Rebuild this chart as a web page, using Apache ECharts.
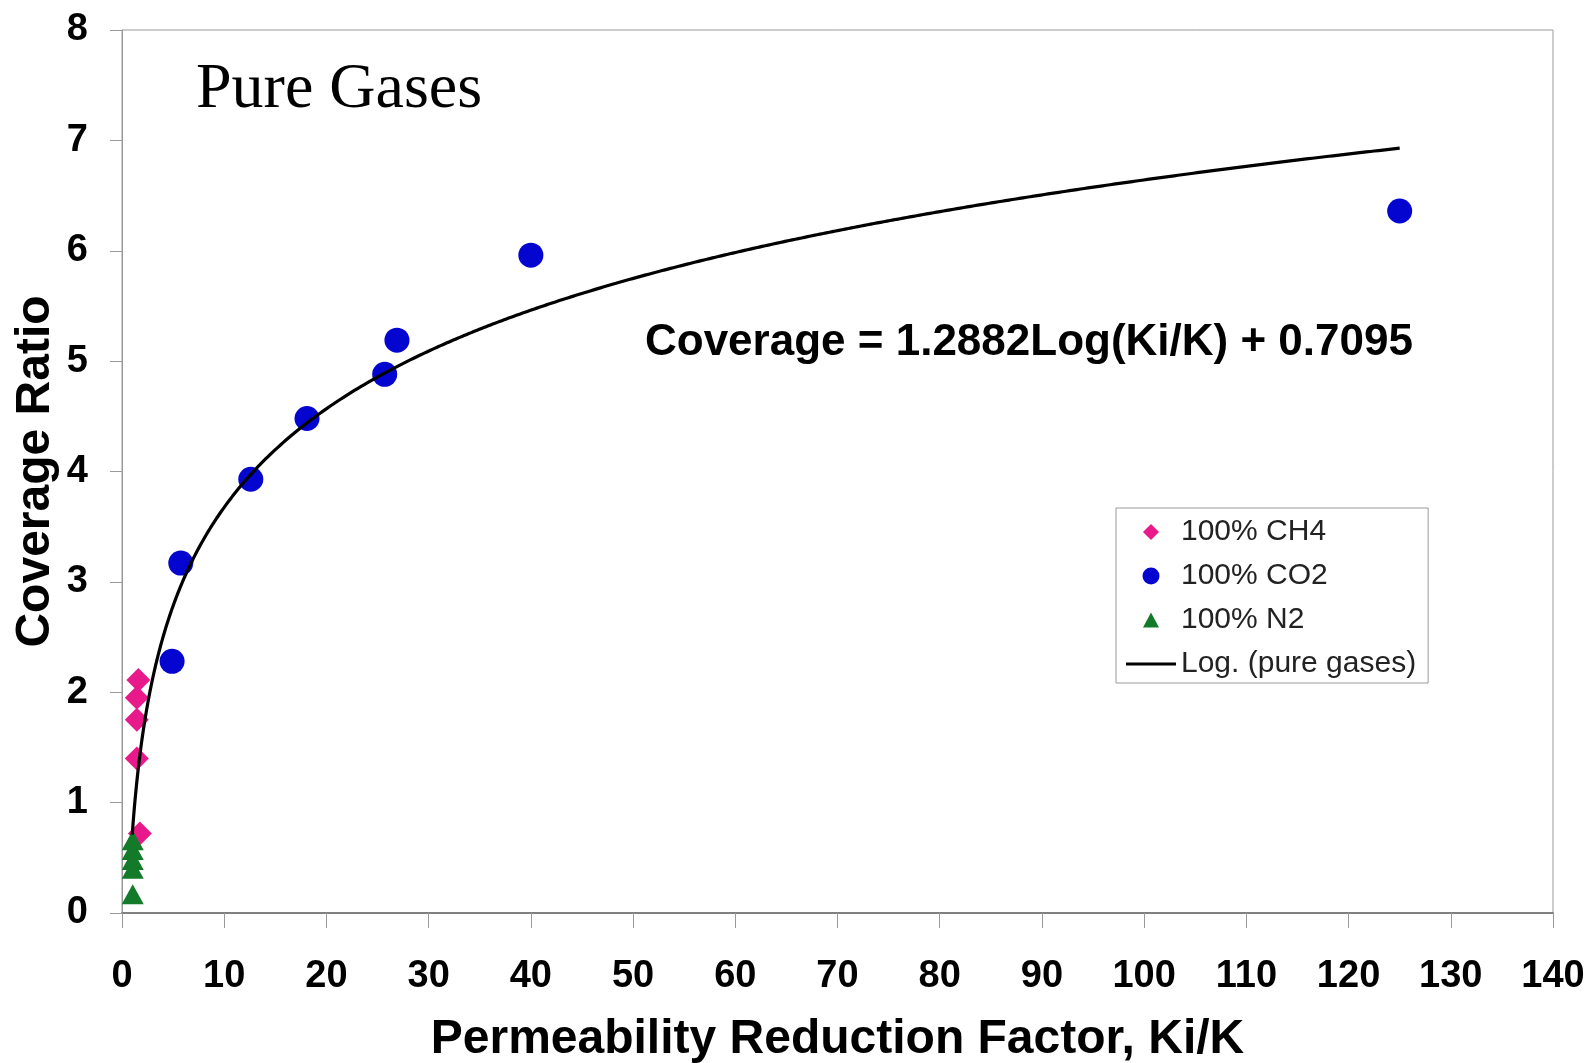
<!DOCTYPE html>
<html>
<head>
<meta charset="utf-8">
<script src="https://cdn.jsdelivr.net/npm/echarts@6/dist/echarts.min.js"></script>
<style>
html,body{margin:0;padding:0;background:#fff;}
#chart{width:1594px;height:1063px;}
</style>
</head>
<body>
<div id="chart"></div>
<script>
// ---- data ----
const ch4X = [1.6, 1.45, 1.45, 1.45, 1.75];
const ch4Y = [2.11, 1.95, 1.75, 1.40, 0.72];
const co2X = [4.9, 5.75, 12.6, 18.1, 25.7, 26.9, 40.0, 125.0];
const co2Y = [2.28, 3.17, 3.93, 4.48, 4.88, 5.19, 5.96, 6.36];
const n2X = [1.05, 1.05, 1.05, 1.05, 1.05];
const n2Y = [0.66, 0.57, 0.48, 0.40, 0.17];
// fitted trend shown on the chart: Coverage = 1.2882 ln(Ki/K) + 0.7095
const fitA = 1.2882, fitB = 0.7095, fitXmin = 1, fitXmax = 125;
const seriesNames = ['100% CH4', '100% CO2', '100% N2', 'Log. (pure gases)'];
const xTicks = {min: 0, max: 140, interval: 10};
const yTicks = {min: 0, max: 8, interval: 1};
const chartTitle = 'Pure Gases';
const equationText = 'Coverage = 1.2882Log(Ki/K) + 0.7095';
const xName = 'Permeability Reduction Factor, Ki/K';
const yName = 'Coverage Ratio';

const zip = (xs, ys) => xs.map((x, i) => [x, ys[i]]);
const fitData = [];
for (let i = 0; i <= 600; i++) {
  const x = fitXmin + (fitXmax - fitXmin) * Math.pow(i / 600, 2);
  fitData.push([x, fitA * Math.log(x) + fitB]);
}

const colCH4 = '#e8198b', colCO2 = '#0505d0', colN2 = '#137a2a';
const chart = echarts.init(document.getElementById('chart'), null, {renderer: 'canvas'});
const sans = '"Liberation Sans", Arial, sans-serif';
chart.setOption({
  animation: false,
  backgroundColor: '#fff',
  grid: {left: 122, right: 41, top: 30, bottom: 150, containLabel: false, outerBoundsMode: 'none',
         show: true, borderColor: '#9a9a9a', borderWidth: 1, backgroundColor: '#fff'},
  xAxis: {
    type: 'value', min: xTicks.min, max: xTicks.max, interval: xTicks.interval,
    name: xName, nameLocation: 'middle', nameGap: 103, nameMoveOverlap: false,
    nameTextStyle: {fontFamily: sans, fontWeight: 'bold', fontSize: 48, color: '#000'},
    axisLine: {lineStyle: {color: '#808080', width: 2}},
    axisTick: {show: true, length: 15, lineStyle: {color: '#9a9a9a', width: 1}},
    axisLabel: {fontFamily: sans, fontWeight: 'bold', fontSize: 38, color: '#000', margin: 45},
    splitLine: {show: false}
  },
  yAxis: {
    type: 'value', min: yTicks.min, max: yTicks.max, interval: yTicks.interval,
    name: yName, nameLocation: 'middle', nameGap: 62, nameMoveOverlap: false,
    nameTextStyle: {fontFamily: sans, fontWeight: 'bold', fontSize: 48, color: '#000'},
    axisLine: {show: true, lineStyle: {color: '#9a9a9a', width: 1}},
    axisTick: {show: true, length: 12, lineStyle: {color: '#9a9a9a', width: 1}},
    axisLabel: {fontFamily: sans, fontWeight: 'bold', fontSize: 38, color: '#000', margin: 34},
    splitLine: {show: false}
  },
  legend: {
    orient: 'vertical', left: 1116, top: 508,
    padding: [9, 12, 4, 10],
    itemWidth: 50, itemHeight: 17, itemGap: 14,
    symbolKeepAspect: true,
    backgroundColor: '#fff', borderColor: '#9a9a9a', borderWidth: 1,
    textStyle: {fontFamily: sans, fontSize: 30, color: '#222'},
    data: [
      {name: seriesNames[0], icon: 'path://M0,0 M50,17 M25,0.5 L33,8.5 L25,16.5 L17,8.5 Z', itemStyle: {color: colCH4, opacity: 1}},
      {name: seriesNames[1], icon: 'circle', itemStyle: {color: colCO2, opacity: 1}},
      {name: seriesNames[2], icon: 'path://M0,0 M50,17 M25,1 L33,16 L17,16 Z', itemStyle: {color: colN2, opacity: 1}},
      {name: seriesNames[3], icon: 'path://M0,0 M50,17 M0,7 L50,7 L50,10 L0,10 Z', itemStyle: {color: '#000', opacity: 1}}
    ]
  },
  graphic: [
    {type: 'text', left: 196, top: 58, z: 10,
     style: {text: chartTitle, font: '64px "Liberation Serif", "Times New Roman", serif', fill: '#000'}},
    {type: 'text', left: 645, top: 321, z: 10,
     style: {text: equationText, font: 'bold 44px ' + sans, fill: '#000'}}
  ],
  series: [
    {name: seriesNames[0], type: 'scatter', data: zip(ch4X, ch4Y), symbol: 'diamond', symbolSize: [24, 24],
     itemStyle: {color: colCH4, opacity: 1}},
    {name: seriesNames[1], type: 'scatter', data: zip(co2X, co2Y), symbol: 'circle', symbolSize: 25,
     itemStyle: {color: colCO2, opacity: 1}},
    {name: seriesNames[2], type: 'scatter', data: zip(n2X, n2Y), symbol: 'triangle', symbolSize: [22, 20],
     itemStyle: {color: colN2, opacity: 1}},
    {name: seriesNames[3], type: 'line', data: fitData, symbol: 'none', showSymbol: false, smooth: false,
     lineStyle: {color: '#000', width: 3.2}, itemStyle: {color: '#000'}, z: 5}
  ]
});
</script>
</body>
</html>
